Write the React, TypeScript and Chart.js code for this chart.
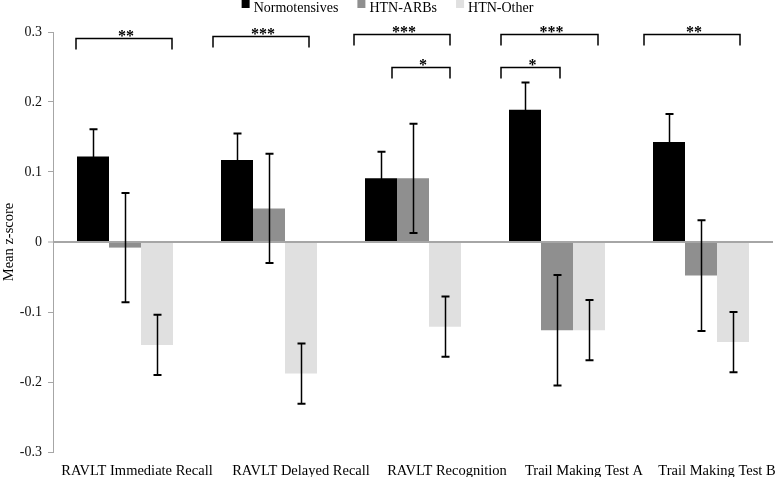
import React, { useEffect, useRef } from "react";
import { Chart, registerables } from "chart.js";

Chart.register(...registerables);

const categories = [
  "RAVLT Immediate Recall",
  "RAVLT Delayed Recall",
  "RAVLT Recognition",
  "Trail Making Test A",
  "Trail Making Test B",
];
const seriesNames = ["Normotensives", "HTN-ARBs", "HTN-Other"];
const normotensives = [0.122, 0.117, 0.091, 0.189, 0.143];
const htnArbs = [-0.008, 0.048, 0.091, -0.126, -0.048];
const htnOther = [-0.147, -0.188, -0.121, -0.126, -0.143];
const normotensivesErr = [0.039, 0.038, 0.038, 0.039, 0.04];
const htnArbsErr = [0.078, 0.078, 0.078, 0.079, 0.079];
const htnOtherErr = [0.043, 0.043, 0.043, 0.043, 0.043];
const yTicks = [-0.3, -0.2, -0.1, 0, 0.1, 0.2, 0.3];

// significance annotations: category index, bracket level (y value), label
const sigCats = [0, 1, 2, 2, 3, 3, 4];
const sigLevels = [0.292, 0.294, 0.297, 0.25, 0.297, 0.25, 0.297];
const sigLabels = ["**", "***", "***", "*", "***", "*", "**"];

const COLORS = ["#000000", "#8f8f8f", "#e0e0e0"];
const FONT = "'Liberation Serif', 'Times New Roman', serif";
// horizontal extents of brackets relative to category centre (px)
const BRACKET_DX: [number, number][] = [
  [-49, 47],
  [-56, 40],
  [-59, 37],
  [-21, 37],
  [-56, 41],
  [-56, 3],
  [-57, 39],
];
// horizontal shift of category labels relative to category centre (px)
const LABEL_DX = [12, 32, 34, 27, 16];

const overlay = {
  id: "overlay",
  afterDatasetsDraw(chart: any) {
    const ctx = chart.ctx as CanvasRenderingContext2D;
    const ys = chart.scales.y;
    const xs = chart.scales.x;
    const errs = [normotensivesErr, htnArbsErr, htnOtherErr];
    ctx.save();
    ctx.strokeStyle = "#000";
    chart.data.datasets.forEach((ds: any, di: number) => {
      const meta = chart.getDatasetMeta(di);
      meta.data.forEach((bar: any, j: number) => {
        const v = ds.data[j];
        const e = errs[di][j];
        const yHi = ys.getPixelForValue(v + e);
        const yLo = ys.getPixelForValue(v - e);
        const bx = Math.round(bar.x) + 0.5;
        ctx.lineWidth = 1.5;
        ctx.beginPath();
        ctx.moveTo(bx, yHi);
        ctx.lineTo(bx, yLo);
        ctx.stroke();
        ctx.lineWidth = 2;
        ctx.beginPath();
        ctx.moveTo(bx - 4, yHi);
        ctx.lineTo(bx + 4, yHi);
        ctx.moveTo(bx - 4, yLo);
        ctx.lineTo(bx + 4, yLo);
        ctx.stroke();
      });
    });
    // significance brackets
    ctx.lineWidth = 1.5;
    ctx.fillStyle = "#000";
    ctx.font = `bold 16px ${FONT}`;
    ctx.textAlign = "center";
    ctx.textBaseline = "alphabetic";
    sigCats.forEach((c, i) => {
      const cx = xs.getPixelForValue(c);
      const x1 = cx + BRACKET_DX[i][0];
      const x2 = cx + BRACKET_DX[i][1];
      const yl = Math.round(ys.getPixelForValue(sigLevels[i])) + 0.5;
      ctx.beginPath();
      ctx.moveTo(x1, yl + 11);
      ctx.lineTo(x1, yl);
      ctx.lineTo(x2, yl);
      ctx.lineTo(x2, yl + 11);
      ctx.stroke();
      ctx.fillText(sigLabels[i], (x1 + x2) / 2 + 2, yl + 2);
    });
    ctx.restore();
  },
  afterDraw(chart: any) {
    const ctx = chart.ctx as CanvasRenderingContext2D;
    const xs = chart.scales.x;
    ctx.save();
    // legend
    ctx.font = `14px ${FONT}`;
    ctx.textBaseline = "alphabetic";
    ctx.textAlign = "left";
    const box = 8;
    const gapBoxText = 4;
    const gapItems = 19;
    const widths = seriesNames.map((n) => box + gapBoxText + ctx.measureText(n).width);
    const total = widths.reduce((a, b) => a + b, 0) + gapItems * (seriesNames.length - 1);
    let x = (chart.width - total) / 2;
    seriesNames.forEach((n, i) => {
      ctx.fillStyle = COLORS[i];
      ctx.fillRect(x, 0, box, 8);
      ctx.fillStyle = "#000";
      ctx.fillText(n, x + box + gapBoxText, 12);
      x += widths[i] + gapItems;
    });
    // category labels
    ctx.font = `14.5px ${FONT}`;
    ctx.textAlign = "center";
    ctx.fillStyle = "#000";
    categories.forEach((lab, i) => {
      const cx = xs.getPixelForValue(i) + LABEL_DX[i];
      ctx.fillText(lab, cx, 475);
    });
    ctx.restore();
  },
};

export default function App() {
  const ref = useRef<HTMLCanvasElement | null>(null);
  useEffect(() => {
    if (!ref.current) return;
    const chart = new Chart(ref.current, {
      type: "bar",
      data: {
        labels: categories,
        datasets: [
          { label: seriesNames[0], data: normotensives, backgroundColor: COLORS[0] },
          { label: seriesNames[1], data: htnArbs, backgroundColor: COLORS[1] },
          { label: seriesNames[2], data: htnOther, backgroundColor: COLORS[2] },
        ],
      },
      options: {
        responsive: false,
        animation: false,
        devicePixelRatio: 1,
        layout: { padding: { top: 32, right: 2, left: 0, bottom: 0 } },
        datasets: {
          bar: { categoryPercentage: 96 / 144, barPercentage: 1, borderWidth: 0 },
        },
        plugins: {
          legend: { display: false },
          tooltip: { enabled: false },
        },
        scales: {
          x: {
            grid: { display: false },
            border: { display: false },
            ticks: { display: false },
            afterFit: (s: any) => {
              s.height = 25;
            },
          },
          y: {
            min: -0.3,
            max: 0.3,
            afterBuildTicks: (s: any) => {
              s.ticks = yTicks.map((v) => ({ value: v }));
            },
            afterFit: (s: any) => {
              s.width = 53;
            },
            border: { display: true, color: "#a6a6a6", width: 1 },
            grid: {
              drawOnChartArea: true,
              color: (c: any) => (c.tick && Math.abs(c.tick.value) < 1e-9 ? "#a6a6a6" : "rgba(0,0,0,0)"),
              lineWidth: (c: any) => (c.tick && Math.abs(c.tick.value) < 1e-9 ? 2 : 1),
              tickColor: "#a6a6a6",
              tickLength: 5,
              tickWidth: 1,
            },
            ticks: {
              color: "#111",
              font: { family: FONT, size: 14 },
              padding: 6,
              callback: (v: any) => String(Math.round(Number(v) * 10) / 10),
            },
            title: {
              display: true,
              text: "Mean z-score",
              color: "#000",
              font: { family: FONT, size: 14.5 },
              padding: { top: 0, bottom: 0 },
            },
          },
        },
      },
      plugins: [overlay],
    });
    return () => chart.destroy();
  }, []);
  return (
    <div style={{ position: "absolute", left: 0, top: 0, width: 775, height: 477 }}>
      <canvas ref={ref} width={775} height={477} />
    </div>
  );
}
